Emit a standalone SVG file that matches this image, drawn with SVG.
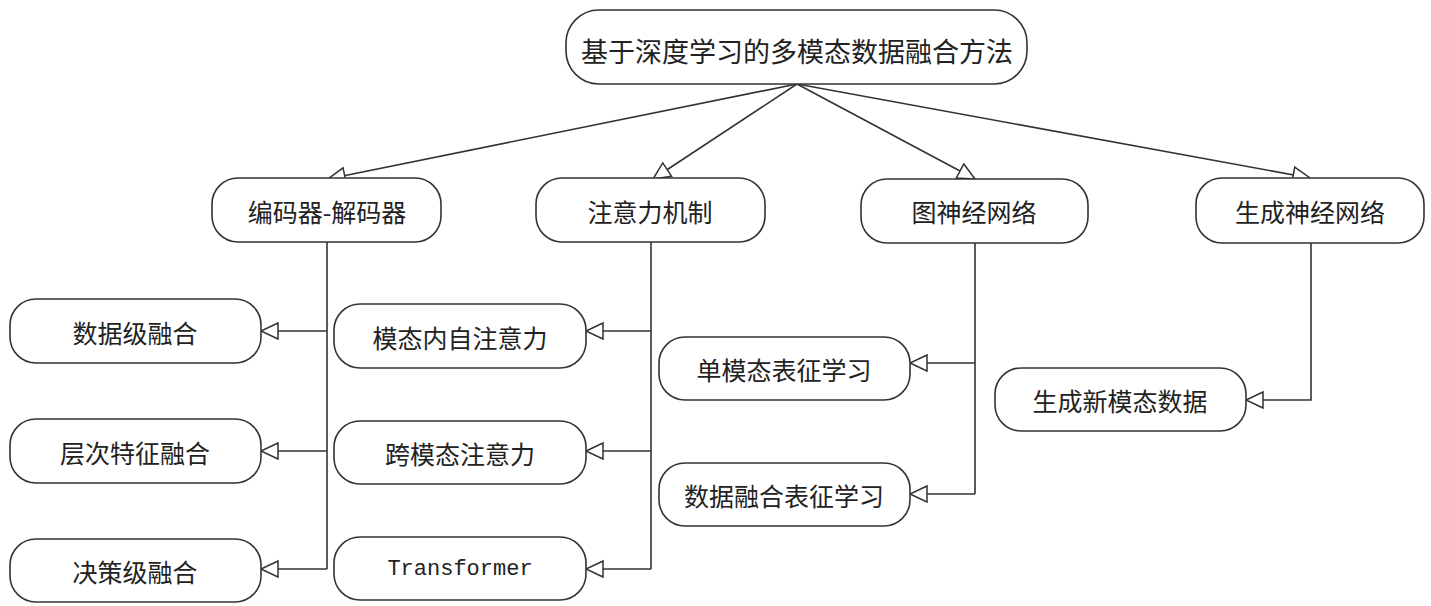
<svg xmlns="http://www.w3.org/2000/svg" width="1431" height="606" viewBox="0 0 1431 606">
<style>
.box{fill:#fff;stroke:#333;stroke-width:1.6}
.t{font-family:"Noto Sans CJK SC","Noto Sans",sans-serif;font-size:25px;fill:#222;text-anchor:middle;dominant-baseline:central}
.m{font-family:"Liberation Mono",monospace;font-size:22px;fill:#222;text-anchor:middle;dominant-baseline:central}
.c{fill:none;stroke:#333;stroke-width:1.6}
</style>
<defs>
<marker id="arr" markerUnits="userSpaceOnUse" markerWidth="20" markerHeight="20" refX="18" refY="9" orient="auto">
<path d="M1,1 L18,9 L1,17 Z" fill="#fff" stroke="#333" stroke-width="1.5"/>
</marker>
</defs>
<rect width="1431" height="606" fill="#fff"/>
<g id="connectors">
<path class="c" d="M797,84 L328,179" marker-end="url(#arr)"/>
<path class="c" d="M797,84 L653,179" marker-end="url(#arr)"/>
<path class="c" d="M797,84 L975,179" marker-end="url(#arr)"/>
<path class="c" d="M797,84 L1310,178" marker-end="url(#arr)"/>
<path class="c" d="M327,242 V569"/>
<path class="c" d="M327,331 H261" marker-end="url(#arr)"/>
<path class="c" d="M327,451 H261" marker-end="url(#arr)"/>
<path class="c" d="M327,569 H261" marker-end="url(#arr)"/>
<path class="c" d="M651,242 V569"/>
<path class="c" d="M651,331 H586" marker-end="url(#arr)"/>
<path class="c" d="M651,451 H586" marker-end="url(#arr)"/>
<path class="c" d="M651,569 H586" marker-end="url(#arr)"/>
<path class="c" d="M975,243 V494"/>
<path class="c" d="M975,363 H910" marker-end="url(#arr)"/>
<path class="c" d="M975,494 H910" marker-end="url(#arr)"/>
<path class="c" d="M1311,243 V400 H1246" marker-end="url(#arr)"/>
</g>
<g id="root"><rect class="box" x="566" y="10" width="461" height="74" rx="33"/><text class="t" x="797" y="50" style="font-size:27px">基于深度学习的多模态数据融合方法</text></g>
<g id="n-encdec"><rect class="box" x="212" y="178" width="229" height="64" rx="26"/><text class="t" x="327" y="211">编码器-解码器</text></g>
<g id="n-attn"><rect class="box" x="536" y="178" width="229" height="64" rx="26"/><text class="t" x="650" y="211">注意力机制</text></g>
<g id="n-gnn"><rect class="box" x="861" y="179" width="227" height="64" rx="26"/><text class="t" x="974" y="211">图神经网络</text></g>
<g id="n-gen"><rect class="box" x="1196" y="178" width="228" height="65" rx="26"/><text class="t" x="1310" y="211">生成神经网络</text></g>
<g id="n-datafuse"><rect class="box" x="10" y="299" width="251" height="64" rx="26"/><text class="t" x="135" y="332">数据级融合</text></g>
<g id="n-hier"><rect class="box" x="10" y="419" width="251" height="64" rx="26"/><text class="t" x="135" y="452">层次特征融合</text></g>
<g id="n-decision"><rect class="box" x="10" y="539" width="251" height="63" rx="26"/><text class="t" x="135" y="571">决策级融合</text></g>
<g id="n-intra"><rect class="box" x="334" y="304" width="252" height="64" rx="26"/><text class="t" x="460" y="337">模态内自注意力</text></g>
<g id="n-cross"><rect class="box" x="334" y="421" width="252" height="63" rx="26"/><text class="t" x="460" y="453">跨模态注意力</text></g>
<g id="n-transformer"><rect class="box" x="334" y="537" width="252" height="63" rx="26"/><text class="m" x="460" y="569">Transformer</text></g>
<g id="n-uni"><rect class="box" x="659" y="337" width="251" height="63" rx="26"/><text class="t" x="784" y="369">单模态表征学习</text></g>
<g id="n-fuserep"><rect class="box" x="659" y="463" width="251" height="63" rx="26"/><text class="t" x="784" y="495">数据融合表征学习</text></g>
<g id="n-newmodal"><rect class="box" x="995" y="368" width="251" height="63" rx="26"/><text class="t" x="1120" y="400">生成新模态数据</text></g>
</svg>
